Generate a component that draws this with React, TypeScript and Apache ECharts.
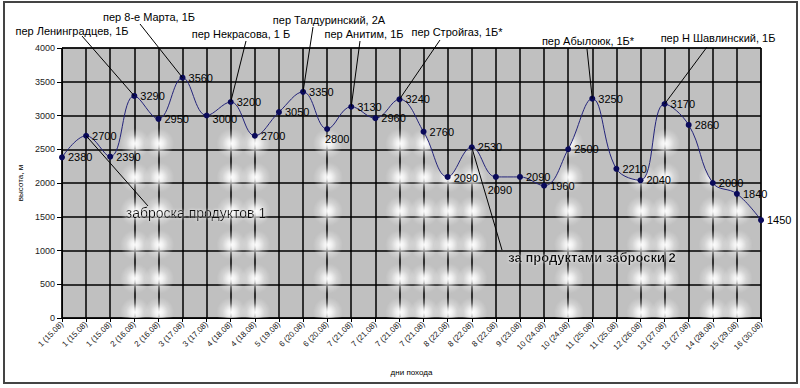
import React, { useEffect, useRef } from "react";
import * as echarts from "echarts";

const categories = [
  "1 (15.08)", "1 (15.08)", "1 (15.08)", "2 (16.08)", "2 (16.08)",
  "3 (17.08)", "3 (17.08)", "4 (18.08)", "4 (18.08)", "5 (19.08)",
  "6 (20.08)", "6 (20.08)", "7 (21.08)", "7 (21.08)", "7 (21.08)",
  "7 (21.08)", "8 (22.08)", "8 (22.08)", "8 (22.08)", "9 (23.08)",
  "10 (24.08)", "10 (24.08)", "11 (25.08)", "11 (25.08)", "12 (26.08)",
  "13 (27.08)", "13 (27.08)", "14 (28.08)", "15 (29.08)", "16 (30.08)",
];

const heights = [
  2380, 2700, 2390, 3290, 2950, 3560, 3000, 3200, 2700, 3050,
  3350, 2800, 3130, 2960, 3240, 2760, 2090, 2530, 2090, 2090,
  1960, 2500, 3250, 2210, 2040, 3170, 2860, 2000, 1840, 1450,
];

const yTicks = [0, 500, 1000, 1500, 2000, 2500, 3000, 3500, 4000];

// annotations: point index and text
const noteIndex = [3, 5, 7, 10, 12, 14, 22, 25, 1, 17];
const noteText = [
  "пер Ленинградцев, 1Б",
  "пер 8-е Марта, 1Б",
  "пер Некрасова, 1 Б",
  "пер Талдуринский, 2А",
  "пер Анитим, 1Б",
  "пер Стройгаз, 1Б*",
  "пер Абылоюк, 1Б*",
  "пер Н Шавлинский, 1Б",
  "заброска продуктов 1",
  "за продуктами заброски 2",
];
// layout for annotations (text centre x,y ; leader start x,y ; font size ; bold)
const noteLayout = [
  [72, 31, 82, 36, 11, 0],
  [149, 17, 140, 24, 11, 0],
  [241, 34, 246, 41, 11, 0],
  [329, 20, 313, 27, 11, 0],
  [364, 34, 360, 41, 11, 0],
  [457, 32, 440, 40, 11, 0],
  [588, 41, 587, 49, 11, 0],
  [718, 38, 707, 47, 11, 0],
  [196, 213, 148, 206, 14, 0],
  [592, 257, 502, 250, 13, 1],
];

// decorative texture: plot columns that carry glow spots (Excel texture fill)
const glowColumns = [0, 1, 4, 5, 8, 11, 12, 13, 14, 18, 21, 22, 24, 25, 27];

// label placement overrides
const labelOverrides: Record<number, any> = {
  11: { position: "bottom", offset: [10, -2] },
  18: { position: "bottom", offset: [4, 2] },
  6: { position: "right", offset: [0, 3] },
  16: { position: "right", offset: [0, 1] },
};

export default function App() {
  const ref = useRef<HTMLDivElement>(null);
  useEffect(() => {
    if (!ref.current) return;
    const chart = echarts.init(ref.current, undefined, { renderer: "svg" });
    const data = heights.map((v, i) => {
      const o = labelOverrides[i];
      return o ? { value: v, label: { ...o } } : v;
    });
    chart.setOption({
      animation: false,
      backgroundColor: "#ffffff",
      grid: {
        left: 62,
        right: 39,
        top: 48,
        bottom: 70,
        show: true,
        backgroundColor: "#c0c0c0",
        borderColor: "#000",
        borderWidth: 1,
      },
      xAxis: {
        type: "category",
        data: categories,
        boundaryGap: false,
        name: "дни похода",
        nameLocation: "middle",
        nameGap: 50,
        nameTextStyle: { fontSize: 8, color: "#000", fontFamily: "Liberation Sans" },
        axisLine: { lineStyle: { color: "#000", width: 1 } },
        axisTick: { show: true, length: 4, lineStyle: { color: "#000" } },
        axisLabel: {
          rotate: 45,
          fontSize: 8,
          color: "#222",
          margin: 5,
          interval: 0,
          fontFamily: "Liberation Sans",
        },
        splitLine: { show: true, lineStyle: { color: "#000", width: 1.5 } },
      },
      yAxis: {
        type: "value",
        min: 0,
        max: 4000,
        interval: 500,
        name: "высота, м",
        nameLocation: "middle",
        nameGap: 38,
        nameRotate: 90,
        nameTextStyle: { fontSize: 8, color: "#000", fontFamily: "Liberation Sans" },
        axisLine: { show: true, lineStyle: { color: "#000", width: 1 } },
        axisTick: { show: true, length: 5, lineStyle: { color: "#000" } },
        axisLabel: {
          fontSize: 9,
          color: "#222",
          margin: 7,
          fontFamily: "Liberation Sans",
          formatter: (v: number) => (yTicks.includes(v) ? String(v) : ""),
        },
        splitLine: { show: true, lineStyle: { color: "#000", width: 1.5 } },
      },
      series: [
        {
          type: "line",
          data,
          smooth: 0.4,
          symbol: "circle",
          symbolSize: 6,
          itemStyle: { color: "#0a0a5a" },
          lineStyle: { color: "#23237a", width: 1 },
          label: {
            show: true,
            position: "right",
            distance: 3,
            fontSize: 11,
            color: "#000",
            fontFamily: "Liberation Sans",
          },
          z: 5,
        },
      ],
    });

    // build glow texture canvas, positioned from the axes' own scales
    const W = 800;
    const H = 388;
    const canvas = document.createElement("canvas");
    canvas.width = W;
    canvas.height = H;
    const ctx = canvas.getContext("2d");
    if (ctx) {
      glowColumns.forEach((c) => {
        for (let r = 0; r < yTicks.length - 1; r++) {
          const a = chart.convertToPixel({ gridIndex: 0 }, [c, yTicks[r]]) as number[];
          const b = chart.convertToPixel({ gridIndex: 0 }, [c + 1, yTicks[r + 1]]) as number[];
          const cx = (a[0] + b[0]) / 2 - 1;
          const cy = (a[1] + b[1]) / 2 + 1;
          const rad = 15;
          const g = ctx.createRadialGradient(cx, cy, 0, cx, cy, rad);
          g.addColorStop(0, "rgba(255,255,255,1)");
          g.addColorStop(0.25, "rgba(255,255,255,0.8)");
          g.addColorStop(0.6, "rgba(255,255,255,0.3)");
          g.addColorStop(1, "rgba(255,255,255,0)");
          ctx.fillStyle = g;
          ctx.fillRect(cx - rad, cy - rad, rad * 2, rad * 2);
        }
      });
    }

    const elements: any[] = [
      {
        type: "rect",
        shape: { x: 4, y: 2, width: 793, height: 381 },
        style: { fill: "none", stroke: "#444", lineWidth: 2 },
        silent: true,
      },
    ];
    noteIndex.forEach((idx, k) => {
      const [tx, ty, lx, ly, fs, bold] = noteLayout[k];
      const p = chart.convertToPixel({ seriesIndex: 0 }, [idx, heights[idx]]) as number[];
      elements.push({
        type: "line",
        shape: { x1: lx, y1: ly, x2: p[0], y2: p[1] },
        style: { stroke: "#000", lineWidth: 1 },
        z: 10,
      });
      elements.push({
        type: "text",
        x: tx,
        y: ty,
        style: {
          text: noteText[k],
          fontSize: fs,
          fontWeight: bold ? "bold" : "normal",
          fill: fs > 12 ? "#111" : "#000",
          fontFamily: "Liberation Sans",
          align: "center",
          verticalAlign: "middle",
          textShadowColor: fs > 12 ? "rgba(255,255,255,0.9)" : "transparent",
          textShadowBlur: fs > 12 ? 3 : 0,
        },
        z: 11,
      });
    });
    chart.setOption({
      series: [
        {
          areaStyle: {
            color: { image: canvas, repeat: "no-repeat" },
            opacity: 1,
            origin: "start",
          },
        },
      ],
      graphic: { elements },
    });
    return () => chart.dispose();
  }, []);
  return (
    <div
      ref={ref}
      style={{ position: "absolute", left: 0, top: 0, width: 800, height: 388 }}
    />
  );
}
